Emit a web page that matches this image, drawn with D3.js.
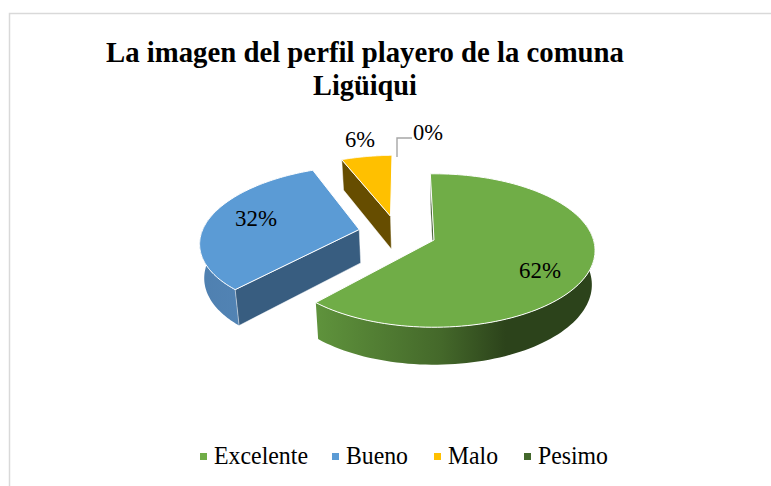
<!DOCTYPE html>
<html><head><meta charset="utf-8">
<script src="https://cdn.jsdelivr.net/npm/d3@7"></script>
<style>html,body{margin:0;padding:0;background:#fff}svg{display:block}text{font-family:"Liberation Serif",serif;fill:#000}</style>
</head><body><svg id="c" width="771" height="486"></svg>
<script>
const categories = ["Excelente","Bueno","Malo","Pesimo"];
const values = [62,32,6,0];
const percentLabels = ["62%","32%","6%","0%"];
const titleLines = ["La imagen del perfil playero de la comuna","Ligüiqui"];

const colors = d3.scaleOrdinal(categories,["#70ad47","#5b9bd5","#ffc000","#43682b"]);
const sideColors = d3.scaleOrdinal(categories,["#2f4a1e","#385d80","#664d00","#2f4a1e"]);
const wallStops = {Excelente:[["0%","#5f933c"],["45%","#44682a"],["68%","#2c431b"],["100%","#2c431b"]],
                   Bueno:[["0%","#4f80b0"],["100%","#5689bb"]],
                   Malo:[["0%","#664d00"],["100%","#664d00"]],
                   Pesimo:[["0%","#2f4a1e"],["100%","#2f4a1e"]]};
// exploded offset of each slice on the pie plane, in radius units
const explodeX = d3.scaleOrdinal(categories,[0,-0.478,-0.285,0]);
const explodeY = d3.scaleOrdinal(categories,[0,0.142,0.33,0]);

const R=159.5, cx=434, cy=240, tilt=0.472, persp=0.137, depth=34.5;
function project(X,Y,lower){
  const w=(1+persp*Y/R)*(lower?1.02:1);
  return [cx+X/w, cy-tilt*Y/w+(lower?depth/w:0)];
}
const start=-1.5*Math.PI/180;
const pie=d3.pie().sort(null).value(d=>d.v).startAngle(start).endAngle(start+2*Math.PI);
const arcs=pie(categories.map((c,i)=>({c,v:values[i]})));

const svg=d3.select("#c"), defs=svg.append("defs");
// frame
svg.append("path").attr("d","M9.5,486V13.5H771").attr("fill","none").attr("stroke","#d9d9d9").attr("stroke-width",1.5);

const line=d3.line();
// far slices first
[2,1,0].forEach(i=>{
  const a=arcs[i], c=a.data.c, ox=explodeX(c)*R, oy=explodeY(c)*R;
  const angles=d3.range(0,121).map(k=>a.startAngle+(a.endAngle-a.startAngle)*k/120);
  const rim=(t,l)=>project(ox+R*Math.sin(t),oy+R*Math.cos(t),l);
  const apex=l=>project(ox,oy,l);
  const g=svg.append("g");
  const xs=angles.map(t=>rim(t,false)[0]);
  const grad=defs.append("linearGradient").attr("id","w"+i).attr("gradientUnits","userSpaceOnUse")
    .attr("x1",d3.min(xs)).attr("x2",d3.max(xs)).attr("y1",0).attr("y2",0);
  wallStops[c].forEach(s=>grad.append("stop").attr("offset",s[0]).attr("stop-color",s[1]));
  // outer wall, front part of the rim only
  const front=angles.filter(t=>Math.cos(t)<0.2);
  if(front.length>1){
    const wall=front.map(t=>rim(t,false)).concat(front.slice().reverse().map(t=>rim(t,true)));
    g.append("path").attr("d",line(wall)+"Z").attr("fill",`url(#w${i})`);
  }
  // cut wall facing the viewer
  const t0=a.startAngle;
  g.append("path").attr("d",line([apex(false),rim(t0,false),rim(t0,true),apex(true)])+"Z")
     .attr("fill",sideColors(c)).attr("stroke","#fff").attr("stroke-width",0.6).attr("stroke-opacity",0.8);
  // top face
  g.append("path").attr("d",line([apex(false)].concat(angles.map(t=>rim(t,false))))+"Z")
   .attr("fill",colors(c)).attr("stroke","#fff").attr("stroke-width",1).attr("stroke-linejoin","round");
});

// leader of the 0% label
svg.append("path").attr("d","M397,157V138H412").attr("fill","none").attr("stroke","#a6a6a6").attr("stroke-width",1.4);

// data labels
const labelPos=[[540,278],[256,226],[360,147],[428,140]];
percentLabels.forEach((t,i)=>svg.append("text").text(t).attr("x",labelPos[i][0]).attr("y",labelPos[i][1])
  .attr("text-anchor","middle").attr("font-size",24).attr("textLength",t.length==3?42:30).attr("lengthAdjust","spacingAndGlyphs"));

// title
const titleW=[518,104], titleY=[62,95];
titleLines.forEach((t,i)=>svg.append("text").text(t).attr("x",365).attr("y",titleY[i]).attr("text-anchor","middle")
  .attr("font-size",30).attr("font-weight","bold").attr("textLength",titleW[i]).attr("lengthAdjust","spacingAndGlyphs"));

// legend
const legX=[200,332,434,524], legW=[94,62,50,70];
categories.forEach((c,i)=>{
  svg.append("rect").attr("x",legX[i]).attr("y",453).attr("width",7).attr("height",7).attr("fill",colors(c));
  svg.append("text").text(c).attr("x",legX[i]+14).attr("y",464).attr("font-size",25)
    .attr("textLength",legW[i]).attr("lengthAdjust","spacingAndGlyphs");
});
</script></body></html>
